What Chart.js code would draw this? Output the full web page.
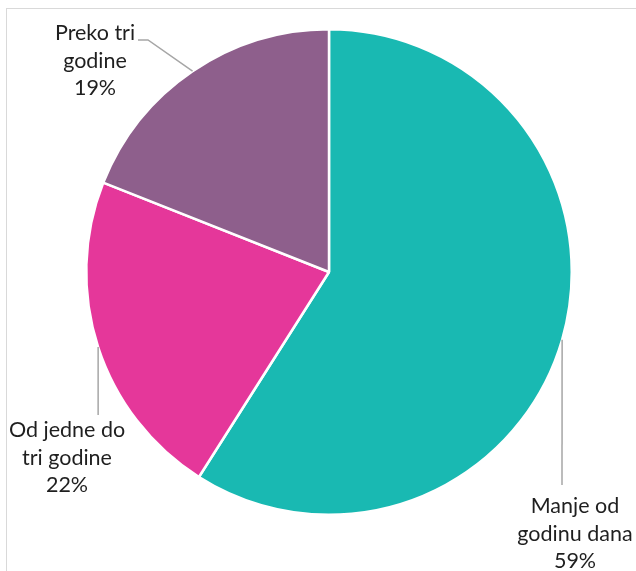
<!DOCTYPE html>
<html>
<head>
<meta charset="utf-8">
<script src="https://cdn.jsdelivr.net/npm/chart.js@4.4.1/dist/chart.umd.min.js"></script>
<style>
  body { margin: 0; background: #fff; }
  canvas { display: block; }
</style>
</head>
<body>
<canvas id="myChart" width="636" height="571"></canvas>
<script>
let categories = [
  ['Manje od', 'godinu dana'],
  ['Od jedne do', 'tri godine'],
  ['Preko tri', 'godine']
];
let shares = [59, 22, 19];
let colors = ['#19B9B2', '#E5379A', '#8E5F8C'];

// where each label block sits and where its leader line bends
let labelPlaces = [
  { x: 575, y: 513, lineEnd: [[562, 485]] },
  { x: 67, y: 437, lineEnd: [[null, 415]] },
  { x: 95, y: 40, lineEnd: [[148, 40], [138, 40]] }
];

const lineGap = 27.5;
const labelFont = '21.5px Lato, "Open Sans", sans-serif';

let frame = {
  id: 'frame',
  beforeDraw(chart) {
    let c = chart.ctx;
    c.save();
    c.strokeStyle = '#D9D9D9';
    c.lineWidth = 1;
    c.strokeRect(6.5, 8.5, 800, 800);
    c.restore();
  }
};

let sliceLabels = {
  id: 'sliceLabels',
  afterDraw(chart) {
    let c = chart.ctx;
    let arcs = chart.getDatasetMeta(0).data;
    c.save();
    arcs.forEach((arc, i) => {
      let mid = (arc.startAngle + arc.endAngle) / 2;
      let sx = arc.x + Math.cos(mid) * arc.outerRadius;
      let sy = arc.y + Math.sin(mid) * arc.outerRadius;
      let place = labelPlaces[i];

      c.strokeStyle = '#A6A6A6';
      c.lineWidth = 1.5;
      c.beginPath();
      c.moveTo(sx, sy);
      place.lineEnd.forEach(p => c.lineTo(p[0] === null ? sx : p[0], p[1]));
      c.stroke();

      c.fillStyle = '#1F1F1F';
      c.font = labelFont;
      c.textAlign = 'center';
      c.textBaseline = 'alphabetic';
      let lines = categories[i].concat([shares[i] + '%']);
      lines.forEach((t, k) => c.fillText(t, place.x, place.y + k * lineGap));
    });
    c.restore();
  }
};

let ctx = document.getElementById('myChart').getContext('2d');
let myChart = new Chart(ctx, {
  type: 'pie',
  data: {
    labels: categories.map(l => l.join(' ')),
    datasets: [{
      data: shares,
      backgroundColor: colors,
      borderColor: '#ffffff',
      borderWidth: 2.5
    }]
  },
  options: {
    responsive: false,
    animation: false,
    layout: { padding: { top: 28, bottom: 55, left: 85, right: 63 } },
    plugins: {
      legend: { display: false },
      tooltip: { enabled: false }
    }
  },
  plugins: [frame, sliceLabels]
});
</script>
</body>
</html>
